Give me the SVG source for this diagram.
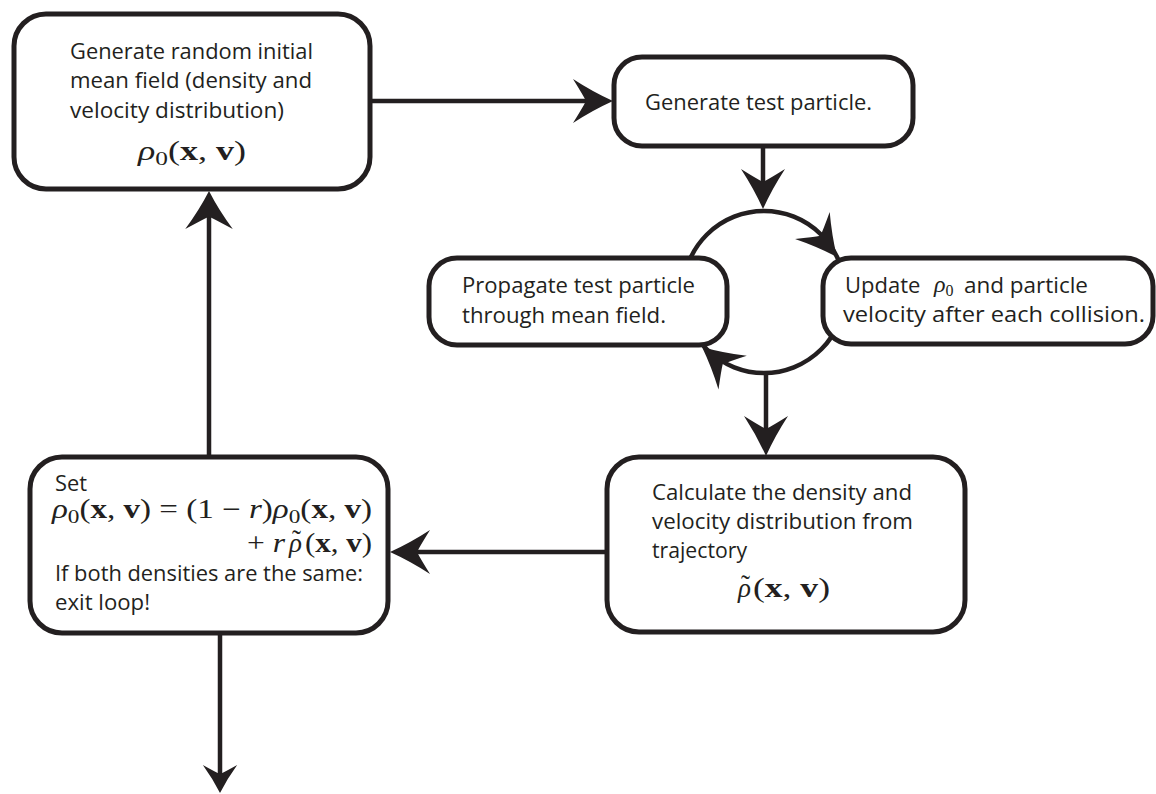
<svg xmlns="http://www.w3.org/2000/svg" xmlns:xlink="http://www.w3.org/1999/xlink" width="1156" height="794" viewBox="0 0 1156 794">
<style>
.box{fill:#fff;stroke:#231f20;stroke-width:5}
.ln{fill:none;stroke:#231f20;stroke-width:4.5}
.t{font-family:"Open Sans","Noto Sans",sans-serif;font-size:22px;fill:#231f20}
.m{font-family:"Liberation Serif","DejaVu Serif",serif;font-size:27px;fill:#231f20}
.i{font-style:italic}
.b{font-weight:bold}
.s{font-size:19px}
</style>
<defs>
<path id="ah" d="M0,0 Q-20,-9 -40,-22 Q-30,-6 -27,0 Q-30,6 -40,22 Q-20,9 0,0Z" fill="#231f20"/>
</defs>
<g id="connectors">
<circle class="ln" cx="764" cy="292" r="81"/>
<line class="ln" x1="370" y1="101" x2="590" y2="101"/>
<use href="#ah" transform="translate(613,101)"/>
<line class="ln" x1="763" y1="146" x2="763" y2="185"/>
<use href="#ah" transform="translate(763,209) rotate(90)"/>
<use href="#ah" transform="translate(837,257) rotate(52)"/>
<use href="#ah" transform="translate(702,347) rotate(-140)"/>
<line class="ln" x1="766" y1="373" x2="766" y2="432"/>
<use href="#ah" transform="translate(766,456) rotate(90)"/>
<line class="ln" x1="607" y1="552" x2="412" y2="552"/>
<use href="#ah" transform="translate(390,552) rotate(180)"/>
<line class="ln" x1="209" y1="457" x2="209" y2="215"/>
<use href="#ah" transform="translate(209,191) rotate(-90) scale(0.95,1.08)"/>
<line class="ln" x1="220" y1="633" x2="220" y2="775"/>
<use href="#ah" transform="translate(220,793) rotate(90) scale(0.7,0.78)"/>
</g>
<g id="node-init">
<rect class="box" x="14" y="14" width="356" height="175" rx="32"/>
<text class="t" x="70" y="59" textLength="243" lengthAdjust="spacingAndGlyphs">Generate random initial</text>
<text class="t" x="70" y="88" textLength="242" lengthAdjust="spacingAndGlyphs">mean field (density and</text>
<text class="t" x="70" y="118" textLength="214" lengthAdjust="spacingAndGlyphs">velocity distribution)</text>
<text class="m" x="138" y="160" textLength="108" lengthAdjust="spacingAndGlyphs"><tspan class="i">ρ</tspan><tspan class="s" dy="5">0</tspan><tspan dy="-5">(</tspan><tspan class="b">x</tspan>, <tspan class="b">v</tspan>)</text>
</g>
<g id="node-generate">
<rect class="box" x="614" y="57" width="299" height="89" rx="28"/>
<text class="t" x="645" y="110" textLength="227" lengthAdjust="spacingAndGlyphs">Generate test particle.</text>
</g>
<g id="node-propagate">
<rect class="box" x="429" y="258" width="298" height="87" rx="28"/>
<text class="t" x="462" y="293" textLength="233" lengthAdjust="spacingAndGlyphs">Propagate test particle</text>
<text class="t" x="462" y="323" textLength="204" lengthAdjust="spacingAndGlyphs">through mean field.</text>
</g>
<g id="node-update">
<rect class="box" x="823" y="258" width="330" height="86" rx="28"/>
<text class="t" x="845" y="293">Update</text>
<text class="m" x="934" y="292" style="font-size:24px"><tspan class="i">ρ</tspan><tspan dy="4" style="font-size:16px">0</tspan></text>
<text class="t" x="964" y="293" textLength="124" lengthAdjust="spacingAndGlyphs">and particle</text>
<text class="t" x="843" y="322" textLength="302" lengthAdjust="spacingAndGlyphs">velocity after each collision.</text>
</g>
<g id="node-calculate">
<rect class="box" x="607" y="457" width="358" height="175" rx="32"/>
<text class="t" x="652" y="500" textLength="260" lengthAdjust="spacingAndGlyphs">Calculate the density and</text>
<text class="t" x="652" y="529" textLength="261" lengthAdjust="spacingAndGlyphs">velocity distribution from</text>
<text class="t" x="652" y="558" textLength="95" lengthAdjust="spacingAndGlyphs">trajectory</text>
<text class="m" x="738" y="597"><tspan class="i">ρ</tspan><tspan x="741" y="594">˜</tspan></text>
<text class="m" x="753" y="597" textLength="77" lengthAdjust="spacingAndGlyphs">(<tspan class="b">x</tspan>, <tspan class="b">v</tspan>)</text>
</g>
<g id="node-set">
<rect class="box" x="30" y="457" width="358" height="176" rx="32"/>
<text class="t" x="55" y="491" textLength="32" lengthAdjust="spacingAndGlyphs">Set</text>
<text class="m" x="52" y="518" textLength="320" lengthAdjust="spacingAndGlyphs"><tspan class="i">ρ</tspan><tspan class="s" dy="5">0</tspan><tspan dy="-5">(</tspan><tspan class="b">x</tspan>, <tspan class="b">v</tspan>) = (1 − <tspan class="i">r</tspan>)<tspan class="i">ρ</tspan><tspan class="s" dy="5">0</tspan><tspan dy="-5">(</tspan><tspan class="b">x</tspan>, <tspan class="b">v</tspan>)</text>
<text class="m" x="247" y="552" textLength="38" lengthAdjust="spacingAndGlyphs">+ <tspan class="i">r</tspan></text>
<text class="m" x="289" y="552"><tspan class="i">ρ</tspan><tspan x="292" y="549">˜</tspan></text>
<text class="m" x="305" y="552" textLength="67" lengthAdjust="spacingAndGlyphs">(<tspan class="b">x</tspan>, <tspan class="b">v</tspan>)</text>
<text class="t" x="55" y="581" textLength="308" lengthAdjust="spacingAndGlyphs">If both densities are the same:</text>
<text class="t" x="55" y="610" textLength="95" lengthAdjust="spacingAndGlyphs">exit loop!</text>
</g>
</svg>
